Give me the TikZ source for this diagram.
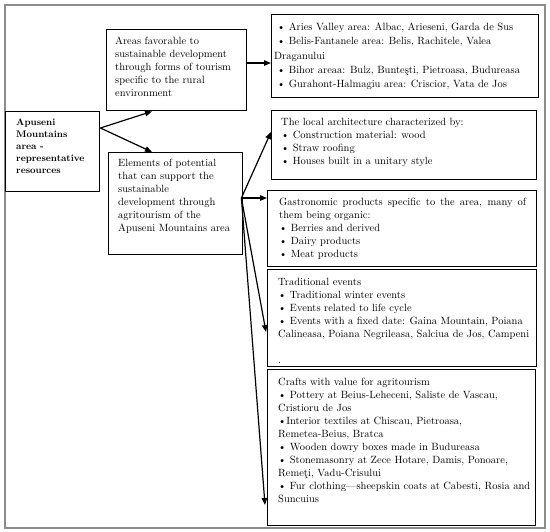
\documentclass[tikz,border=0pt]{standalone}
\usepackage{fontspec}
\usetikzlibrary{arrows.meta,calc}
\tikzset{
  box/.style={draw=black, line width=1.4pt, rectangle, inner sep=0pt, anchor=north west},
  txt/.style={inner sep=0pt, anchor=north west, align=left, font=\fontsize{10.5}{13}\selectfont},
  btxt/.style={inner sep=0pt, anchor=north west, align=left, font=\fontsize{9.6}{11.8}\selectfont\bfseries},
  arr/.style={line width=1.2pt, -{Triangle[length=7pt,width=5.5pt]}},
  frame/.style={draw=black!45, line width=1.3pt}
}
\begin{document}
\begin{tikzpicture}[x=1pt,y=-1pt]
\useasboundingbox (0,0) rectangle (550,532);
\draw[frame] (5,5) rectangle (545,528);
% boxes
\node[box, minimum width=94pt, minimum height=80pt] (apuseni) at (5,111) {};
\node[box, minimum width=140pt, minimum height=81pt] (areas) at (106,29) {};
\node[box, minimum width=134pt, minimum height=102pt] (elements) at (108,152) {};
\node[box, minimum width=267pt, minimum height=83pt] (aries) at (271,14) {};
\node[box, minimum width=265pt, minimum height=69pt] (arch) at (271,110) {};
\node[box, minimum width=269pt, minimum height=76pt] (gastro) at (267,190) {};
\node[box, minimum width=269pt, minimum height=97pt] (events) at (267,269) {};
\node[box, minimum width=268pt, minimum height=156pt] (crafts) at (267,369) {};
% texts
\node[btxt] (tapuseni) at (16,119) {Apuseni\\Mountains\\area -\\representative\\resources};
\node[txt] (tareas) at (115,37) {Areas favorable to\\sustainable development\\through forms of tourism\\specific to the rural\\environment};
\node[txt] (telements) at (118,159) {Elements of potential\\that can support the\\sustainable\\development through\\agritourism of the\\Apuseni Mountains area};
\node[txt, font=\fontsize{10.5}{14.2}\selectfont] (taries) at (274,23) {\hspace{3pt}\textbullet\ Aries Valley area: Albac, Arieseni, Garda de Sus\\\hspace{3pt}\textbullet\ Belis-Fantanele area: Belis, Rachitele, Valea\\Draganului\\\hspace{3pt}\textbullet\ Bihor areaa: Bulz, Bunteşti, Pietroasa, Budureasa\\\hspace{3pt}\textbullet\ Gurahont-Halmagiu area: Criscior, Vata de Jos};
\node[txt] (tarch) at (281,118) {The local architecture characterized by:\\\textbullet\ Construction material: wood\\\textbullet\ Straw roofing\\\textbullet\ Houses built in a unitary style};
\node[txt] (tgastro) at (279,198) {\makebox[247pt][s]{Gastronomic products specific to the area, many of}\\them being organic:\\\textbullet\ Berries and derived\\\textbullet\ Dairy products\\\textbullet\ Meat products};
\node[txt] (tevents) at (278,278) {Traditional events\\\textbullet\ Traditional winter events\\\textbullet\ Events related to life cycle\\\textbullet\ Events with a fixed date: Gaina Mountain, Poiana\\Calineasa, Poiana Negrileasa, Salciua de Jos, Campeni\\[13pt].};
\node[txt] (tcrafts) at (278,378) {Crafts with value for agritourism\\\textbullet\ Pottery at Beius-Leheceni, Saliste de Vascau,\\Cristioru de Jos\\\textbullet Interior textiles at Chiscau, Pietroasa,\\Remetea-Beius, Bratca\\\textbullet\ Wooden dowry boxes made in Budureasa\\\textbullet\ Stonemasonry at Zece Hotare, Damis, Ponoare,\\Remeţi, Vadu-Crisului\\\textbullet\ Fur clothing—sheepskin coats at Cabesti, Rosia and\\Suncuius};
% connector origins
\coordinate (o1) at ($(apuseni.north east)+(0,17)$);
\coordinate (o2) at ($(elements.north east)+(-2,46)$);
% connectors
\draw[arr] (o1) -- ($(areas.south west)+(46,0)$);
\draw[arr] (o1) -- ($(elements.north west)+(44,0)$);
\draw[arr] ($(areas.north east)+(0,34)$) -- ($(aries.north west)+(0,49)$);
\draw[arr] (o2) -- ($(arch.north west)+(0,22)$);
\draw[arr] (o2) -- ($(gastro.north west)+(0,8)$);
\draw[arr] (o2) -- ($(events.north west)+(-1,63)$);
\draw[arr] (o2) -- ($(crafts.north west)+(-2,136)$);
\end{tikzpicture}
\end{document}
